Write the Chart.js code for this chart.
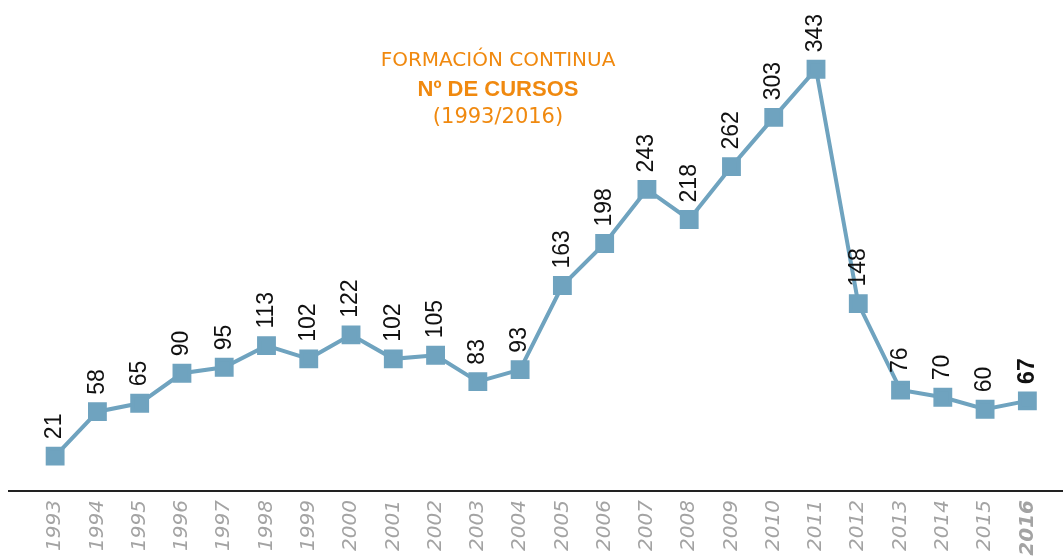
<!DOCTYPE html>
<html>
<head>
<meta charset="utf-8">
<script src="https://cdn.jsdelivr.net/npm/chart.js@4"></script>
<style>
  html, body { margin: 0; padding: 0; background: #fff; }
  #wrap { width: 1063px; height: 557px; }
</style>
</head>
<body>
<div id="wrap"><canvas id="cursosChart"></canvas></div>
<script>
// Datos: Formación continua, nº de cursos por año
const years = ['1993', '1994', '1995', '1996', '1997', '1998', '1999', '2000', '2001', '2002', '2003', '2004',
               '2005', '2006', '2007', '2008', '2009', '2010', '2011', '2012', '2013', '2014', '2015', '2016'];
const cursos = [21, 58, 65, 90, 95, 113, 102, 122, 102, 105, 83, 93,
                163, 198, 243, 218, 262, 303, 343, 148, 76, 70, 60, 67];
const titleLines = ['FORMACIÓN CONTINUA', 'Nº DE CURSOS', '(1993/2016)'];

const lineColor = '#6fa3bf';
const orange = '#f0890f';
const lastIdx = years.length - 1;

// Etiquetas de valor giradas sobre cada punto
const valueLabels = {
    id: 'valueLabels',
    afterDatasetsDraw(chart) {
        const ctx = chart.ctx;
        const meta = chart.getDatasetMeta(0);
        ctx.save();
        ctx.fillStyle = '#111';
        ctx.textAlign = 'left';
        ctx.textBaseline = 'middle';
        meta.data.forEach(function(pt, i) {
            ctx.font = (i === lastIdx ? 'bold ' : '') + '23px "Liberation Sans"';
            ctx.save();
            ctx.translate(pt.x, pt.y - 17);
            ctx.rotate(-Math.PI / 2);
            ctx.fillText(String(cursos[i]), 0, 0);
            ctx.restore();
        });
        ctx.restore();
    }
};

// Título y línea base
const extras = {
    id: 'extras',
    afterDraw(chart) {
        const ctx = chart.ctx;
        const area = chart.chartArea;
        ctx.save();
        ctx.strokeStyle = '#222';
        ctx.lineWidth = 2;
        ctx.beginPath();
        ctx.moveTo(8, area.bottom);
        ctx.lineTo(chart.width, area.bottom);
        ctx.stroke();

        ctx.fillStyle = orange;
        ctx.textAlign = 'center';
        ctx.textBaseline = 'middle';
        ctx.font = '20px "DejaVu Sans"';
        ctx.fillText(titleLines[0], 498, 61);
        ctx.font = 'bold 22px "Liberation Sans"';
        ctx.fillText(titleLines[1], 498, 90);
        ctx.font = '21px "DejaVu Sans"';
        ctx.fillText(titleLines[2], 498, 118);
        ctx.restore();
    }
};

const ctx = document.getElementById('cursosChart').getContext('2d');
new Chart(ctx, {
    type: 'line',
    data: {
        labels: years,
        datasets: [{
            data: cursos,
            borderColor: lineColor,
            backgroundColor: lineColor,
            borderWidth: 4,
            pointStyle: 'rect',
            pointRadius: 10.5,
            pointHoverRadius: 10.5,
            tension: 0
        }]
    },
    options: {
        responsive: true,
        maintainAspectRatio: false,
        animation: false,
        layout: { padding: { left: 34, right: 13, top: 20, bottom: 0 } },
        plugins: {
            legend: { display: false },
            tooltip: { enabled: false }
        },
        scales: {
            x: {
                offset: true,
                grid: { display: false, drawTicks: false },
                border: { display: false },
                afterFit: function(scale) { scale.height = 66; },
                ticks: {
                    minRotation: 90,
                    maxRotation: 90,
                    padding: 9,
                    autoSkip: false,
                    color: '#a3a3a3',
                    font: function(c) {
                        return c.index === lastIdx
                            ? { family: 'DejaVu Sans', size: 20, weight: 'bold', style: 'italic' }
                            : { family: 'DejaVu Sans', size: 20, style: 'italic' };
                    }
                }
            },
            y: {
                display: false,
                min: -8,
                max: 384
            }
        }
    },
    plugins: [valueLabels, extras]
});
</script>
</body>
</html>
